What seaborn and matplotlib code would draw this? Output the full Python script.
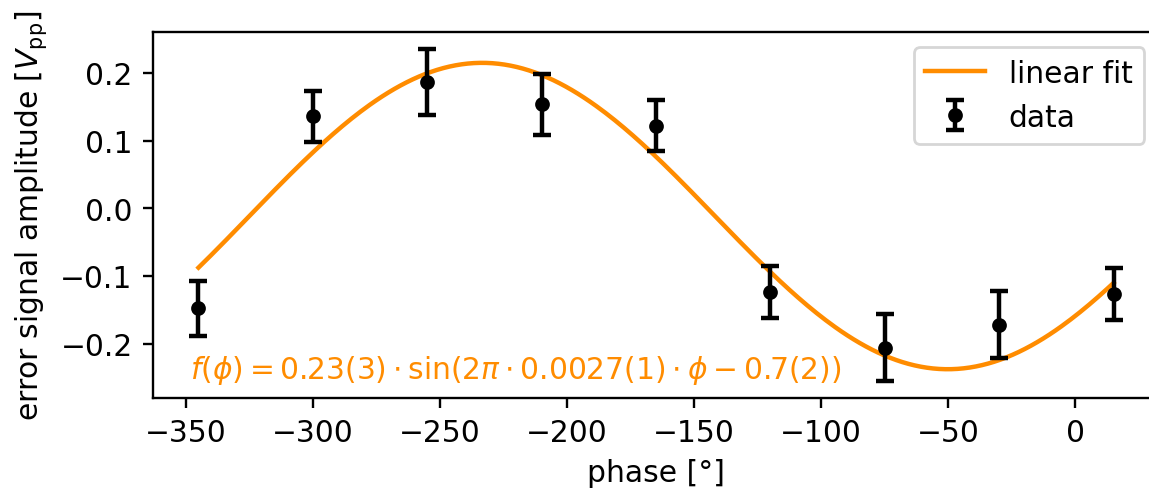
import numpy as np
import pandas as pd
import seaborn as sb
import matplotlib.pyplot as plt

# measured error-signal amplitude vs phase
phase = [-345, -300, -255, -210, -165, -120, -75, -30, 15]
amplitude = [-0.148, 0.136, 0.187, 0.154, 0.122, -0.124, -0.206, -0.172, -0.127]
amp_err = [0.041, 0.038, 0.049, 0.045, 0.038, 0.038, 0.050, 0.049, 0.038]

# sine fit parameters
fit_amp = 0.2265
fit_freq = 0.00273
fit_phase = -0.709
fit_offset = -0.0115

FS = 10.7  # the reference is rendered a touch larger than 10pt @ 200dpi
LW = 1.6


def plot_phase_scan():
    plt.rcParams.update({
        "font.size": FS,
        "axes.linewidth": 0.85,
        "xtick.major.size": 3.7,
        "ytick.major.size": 3.7,
        "xtick.major.width": 0.85,
        "ytick.major.width": 0.85,
    })

    data = pd.DataFrame({"phase": phase, "amplitude": amplitude, "err": amp_err})

    phi = np.linspace(min(phase), max(phase), 300)
    fit = pd.DataFrame({
        "phase": phi,
        "amplitude": fit_amp * np.sin(2 * np.pi * fit_freq * phi + fit_phase) + fit_offset,
    })

    fig, ax = plt.subplots(figsize=(5.745, 2.445), dpi=200)
    # the right edge of the axes sits just past the picture, as in the reference
    fig.subplots_adjust(left=0.1329, right=1.009, top=0.9325, bottom=0.184)

    sb.lineplot(x="phase", y="amplitude", data=fit, color="darkorange",
                linewidth=LW, label="linear fit", ax=ax)
    ax.errorbar(data["phase"], data["amplitude"], yerr=data["err"], fmt="o",
                color="black", markersize=4.3, capsize=3.2, capthick=LW,
                elinewidth=LW, label="data")

    ax.text(-348.3, -0.238,
            r"$f(\phi) = 0.23(3)\cdot\sin(2\pi\cdot 0.0027(1)\cdot\phi - 0.7(2))$",
            color="darkorange", fontsize=FS, va="center")

    ax.set_xlim(-363, 33)
    ax.set_ylim(-0.2806, 0.2606)
    ax.set_xlabel("phase [°]")
    ax.set_ylabel(r"error signal amplitude [$V_\mathrm{pp}$]")
    ax.legend(loc="upper right")

    fig.savefig("out.png", dpi=200)


def main():
    plot_phase_scan()


if __name__ == "__main__":
    main()
